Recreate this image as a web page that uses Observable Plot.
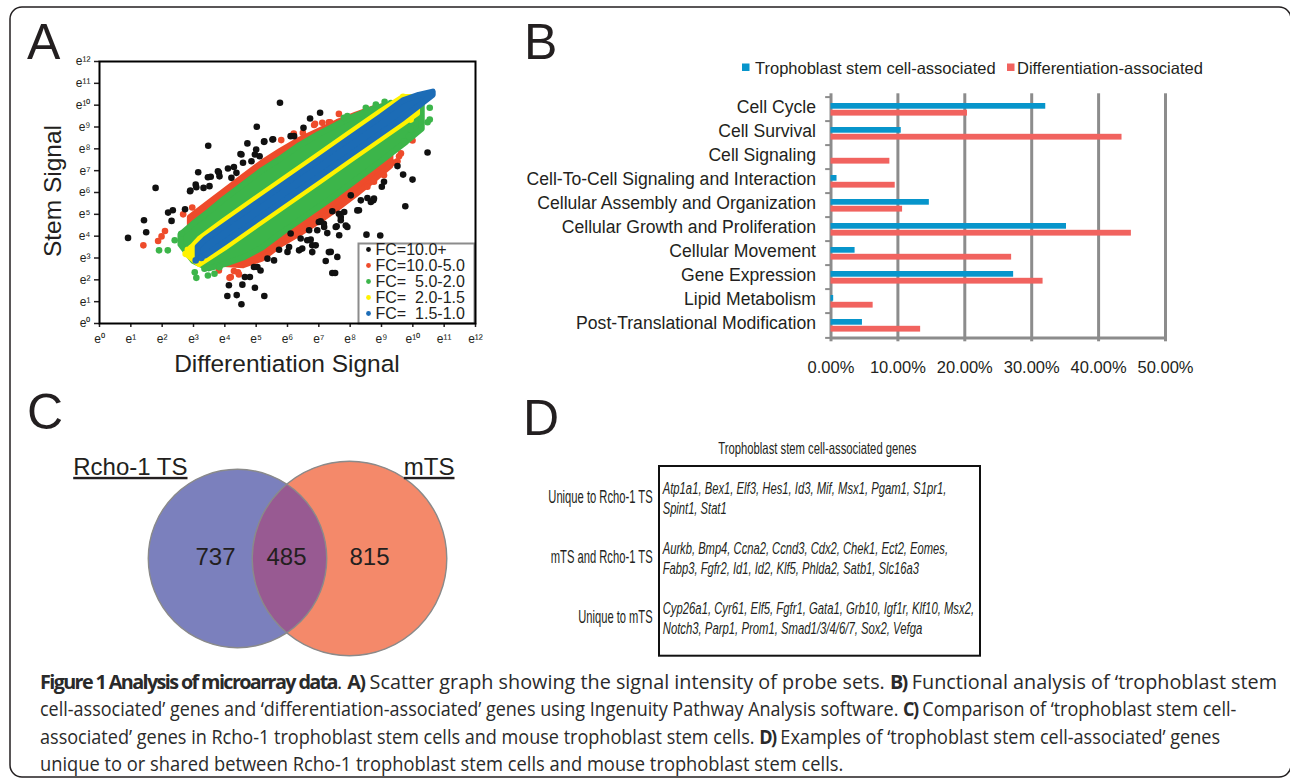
<!DOCTYPE html>
<html>
<head>
<meta charset="utf-8">
<script src="https://cdn.jsdelivr.net/npm/d3@7"></script>
<script src="https://cdn.jsdelivr.net/npm/@observablehq/plot@0.6"></script>
<style>
  body { margin: 0; background: #fff; }
  #fig { position: relative; width: 1290px; height: 780px; overflow: hidden; background: #fff; }
</style>
</head>
<body>
<div id="fig"></div>
<script>
// ---------------- DATA ----------------
// Panel A: fold-change classes
const fcClasses = ["FC=10.0+", "FC=10.0-5.0", "FC=  5.0-2.0", "FC=  2.0-1.5", "FC=  1.5-1.0"];
const fcColors = ["#111111", "#ee4b2b", "#3cb54a", "#fff200", "#1c6cb6"];
const axisExponents = [0,1,2,3,4,5,6,7,8,9,10,11,12];

// dense bands of probe sets (ln signal): x, lower y, upper y
const redBandX    = [2.9, 3.4, 4.0, 4.6, 5.2, 5.8, 6.4, 7.0, 7.6, 8.2, 8.8, 9.3];
const redBandLo   = [4.0, 3.1, 2.7, 2.65, 2.95, 3.6, 4.1, 4.65, 5.25, 5.9, 6.6, 7.2];
const redBandHi   = [4.85, 5.4, 6.05, 6.7, 7.35, 7.9, 8.4, 8.8, 9.2, 9.55, 9.85, 10.0];
const greenBandX  = [2.6, 3.0, 3.5, 4.0, 4.6, 5.2, 5.8, 6.4, 7.0, 7.6, 8.2, 8.8, 9.3, 9.8, 10.3];
const greenBandLo = [3.6, 2.85, 2.5, 2.7, 3.0, 3.45, 4.1, 4.7, 5.3, 5.9, 6.55, 7.2, 7.75, 8.3, 8.9];
const greenBandHi = [4.05, 4.55, 5.1, 5.7, 6.35, 7.0, 7.55, 8.15, 8.65, 9.1, 9.5, 9.85, 10.0, 10.2, 10.35];
const yellowBandX  = [2.85, 3.2, 4, 5, 6, 7, 8, 9, 9.7, 10.15];
const yellowBandLo = [3.1, 2.7, 3.45, 4.45, 5.45, 6.45, 7.45, 8.45, 9.15, 9.6];
const yellowBandHi = [3.3, 3.85, 4.7, 5.7, 6.7, 7.7, 8.7, 9.7, 10.35, 10.35];
const blueBandX  = [3.15, 3.4, 4, 5, 6, 7, 8, 9, 9.7, 10.2, 10.65];
const blueBandLo = [3.0, 3.1, 3.69, 4.69, 5.69, 6.69, 7.69, 8.69, 9.39, 9.95, 10.45];
const blueBandHi = [3.5, 3.85, 4.46, 5.46, 6.46, 7.46, 8.46, 9.46, 10.2, 10.45, 10.6];

// individual probe sets outside the dense bands [x, y]
const blackPts = [[5.76,10.11],[7.04,9.65],[5.02,9.01],[6.72,9.39],[6.51,8.96],[3.47,8.14],[4.72,8.25],[4.50,7.76],[3.15,6.93],[4.10,7.10],[1.79,6.21],[0.91,3.92],[1.42,4.73],[1.49,4.18],[2.19,5.08],[2.34,5.19],[2.30,4.70],[2.73,5.23],[2.89,6.06],[3.07,6.36],[3.55,6.72],[3.81,6.91],[4.29,7.17],[4.96,7.74],[5.25,8.32],[5.52,8.43],[6.10,8.58],[6.21,8.58],[10.47,7.83],[9.51,7.21],[9.69,6.82],[9.99,6.59],[9.76,5.37],[9.08,6.49],[9.01,6.26],[8.74,5.65],[8.55,5.75],[8.28,5.19],[7.81,5.11],[7.70,4.73],[7.43,5.14],[7.06,4.68],[7.17,4.42],[7.57,4.45],[7.91,4.42],[8.52,4.07],[8.96,4.03],[7.65,4.04],[7.38,3.28],[7.22,2.86],[7.59,3.05],[7.43,2.31],[7.52,2.31],[6.79,3.58],[6.47,3.43],[6.00,3.28],[5.73,3.38],[5.57,2.89],[5.36,2.97],[5.04,2.59],[5.14,2.43],[4.93,2.59],[4.64,2.13],[4.80,2.13],[4.56,1.78],[4.13,1.75],[4.08,1.26],[4.38,1.30],[4.96,1.64],[5.26,1.26],[4.53,0.88],[6.10,4.12],[6.42,3.89],[6.74,3.84],[6.95,4.27],[6.69,4.27],[4.53,7.74],[5.0,7.97],[5.11,7.66],[4.85,7.43],[4.58,7.36],[4.37,6.90],[3.78,6.97],[3.83,6.74],[3.46,6.70],[3.51,6.29],[3.09,6.24],[2.90,6.09],[3.32,6.21],[4.21,6.67],[5.26,8.34],[5.54,8.44],[6.05,3.5],[6.37,3.35],[6.63,3.81],[6.79,3.27],[6.9,3.58],[7.0,4.65],[7.16,4.57],[7.27,4.14],[7.54,4.42],[7.64,5.03],[7.70,4.88],[7.86,4.49],[8.02,5.87],[8.23,5.18],[8.34,5.64],[8.66,5.57],[8.76,5.72],[7.32,3.27]];
const redPts = [[1.40,3.58],[1.87,3.78],[1.98,3.99],[2.09,4.24],[2.67,5.00],[2.96,5.31],[7.64,9.60],[6.88,9.15],[7.11,9.19],[7.32,9.22],[6.49,8.73],[9.99,8.38],[9.56,7.66],[9.51,7.43],[9.62,7.79],[9.40,7.37],[9.08,6.79],[8.76,6.49],[8.55,6.26],[4.19,2.13],[4.45,2.25],[4.29,2.40],[3.81,2.43],[4.15,2.09],[4.42,2.35],[6.85,9.09],[7.36,9.22],[5.8,8.4],[6.2,8.7]];
const greenPts = [[10.54,9.88],[10.54,9.34],[10.47,9.22],[10.09,9.19],[9.93,8.89],[9.88,8.58],[9.72,8.35],[8.82,10.03],[8.5,9.88],[7.91,9.50],[7.80,9.42],[1.90,3.35],[2.18,3.35],[2.40,3.81],[2.61,4.11],[3.04,2.35],[3.09,2.09],[3.35,2.51],[3.46,2.20],[3.67,2.28],[3.83,2.58],[9.3,10.1],[9.1,10.15]];
const yellowPts = [[2.75,3.19],[2.82,3.38],[2.93,3.47],[9.69,10.38],[9.56,10.18],[10.04,9.60],[9.93,9.34]];
const bluePts = [[3.07,2.89],[3.25,3.0]];

// Panel B: functional analysis (%)
const categories = ["Cell Cycle", "Cell Survival", "Cell Signaling", "Cell-To-Cell Signaling and Interaction", "Cellular Assembly and Organization", "Cellular Growth and Proliferation", "Cellular Movement", "Gene Expression", "Lipid Metabolism", "Post-Translational Modification"];
const seriesNames = ["Trophoblast stem cell-associated", "Differentiation-associated"];
const seriesColors = ["#0795cb", "#f1635f"];
const tscValues  = [32.1, 10.5, 0, 0.9, 14.7, 35.2, 3.6, 27.3, 0.4, 4.7];
const diffValues = [20.4, 43.5, 8.8, 9.6, 10.7, 44.9, 27.0, 31.7, 6.3, 13.4];
const percentTicks = [0, 10, 20, 30, 40, 50];

// Panel C: Venn
const vennSets = ["Rcho-1 TS", "mTS"];
const vennCounts = [737, 485, 815]; // Rcho-1 only, shared, mTS only
const vennColors = ["#7b80bd", "#f4896a", "#985a92"];

// Panel D: gene table
const dTitle = "Trophoblast stem cell-associated genes";
const dRowLabels = ["Unique to Rcho-1 TS", "mTS and Rcho-1 TS", "Unique to mTS"];
const dGeneLines = [
  ["Atp1a1, Bex1, Elf3, Hes1, Id3, Mif, Msx1, Pgam1, S1pr1,", "Spint1, Stat1"],
  ["Aurkb, Bmp4, Ccna2, Ccnd3, Cdx2, Chek1, Ect2, Eomes,", "Fabp3, Fgfr2, Id1, Id2, Klf5, Phlda2, Satb1, Slc16a3"],
  ["Cyp26a1, Cyr61, Elf5, Fgfr1, Gata1, Grb10, Igf1r, Klf10, Msx2,", "Notch3, Parp1, Prom1, Smad1/3/4/6/7, Sox2, Vefga"]
];

// Caption
const captionLines = [
  [["b","Figure 1 Analysis of microarray data"],["n",". "],["b","A)"],["n"," Scatter graph showing the signal intensity of probe sets. "],["b","B)"],["n"," Functional analysis of \u2018trophoblast stem"]],
  [["n","cell-associated\u2019 genes and \u2018differentiation-associated\u2019 genes using Ingenuity Pathway Analysis software. "],["b","C)"],["n"," Comparison of \u2018trophoblast stem cell-"]],
  [["n","associated\u2019 genes in Rcho-1 trophoblast stem cells and mouse trophoblast stem cells. "],["b","D)"],["n"," Examples of \u2018trophoblast stem cell-associated\u2019 genes"]],
  [["n","unique to or shared between Rcho-1 trophoblast stem cells and mouse trophoblast stem cells."]]
];

// ---------------- LAYOUT ----------------
const SANS = "'Liberation Sans', Arial, Helvetica, sans-serif";
const INK = "#231f20";
const fig = document.getElementById("fig");
function place(el, left, top) {
  el.style.position = "absolute";
  el.style.left = left + "px";
  el.style.top = top + "px";
  fig.appendChild(el);
  return el;
}
const SUP = {"0":"\u2070","1":"\u00b9","2":"\u00b2","3":"\u00b3","4":"\u2074","5":"\u2075","6":"\u2076","7":"\u2077","8":"\u2078","9":"\u2079"};
const eLabel = d => "e" + String(d).split("").map(c => SUP[c]).join("");

// ---- Panel A legend (below plot A) ----
const legendA = Plot.plot({
  width: 116, height: 80, margin: 0,
  style: {background: "white", fontFamily: SANS, fontSize: "16px", color: INK, overflow: "visible", whiteSpace: "pre"},
  y: {domain: fcClasses, range: [5.5, 70.5], padding: 0, axis: null},
  color: {domain: fcClasses, range: fcColors},
  marks: [
    Plot.frame({stroke: "#8c8c8c", strokeWidth: 2, fill: "white"}),
    Plot.dot(fcClasses, {y: d => d, fill: d => d, r: 2.4, frameAnchor: "left", dx: 10}),
    Plot.text(fcClasses, {y: d => d, text: d => d, frameAnchor: "left", dx: 17, textAnchor: "start"})
  ]
});
place(legendA, 358, 243);

// ---- Panel A scatter ----
const bandMark = (xs, lo, hi, color) => Plot.areaY(xs.map((x, i) => ({x, lo: lo[i], hi: hi[i]})),
  {x: "x", y1: "lo", y2: "hi", fill: color, stroke: color, strokeWidth: 6, strokeLinejoin: "round"});
const dotMark = (pts, color) => Plot.dot(pts.map(([x, y]) => ({x, y})), {x: "x", y: "y", r: 3.3, fill: color});

const plotA = Plot.plot({
  width: 455, height: 320, marginLeft: 69, marginRight: 10, marginTop: 21, marginBottom: 37,
  style: {background: "transparent", fontFamily: SANS, fontSize: "12px", color: INK, overflow: "visible"},
  x: {domain: [0, 12]},
  y: {domain: [0, 12]},
  marks: [
    bandMark(redBandX, redBandLo, redBandHi, fcColors[1]),
    dotMark(redPts, fcColors[1]),
    bandMark(greenBandX, greenBandLo, greenBandHi, fcColors[2]),
    dotMark(greenPts, fcColors[2]),
    bandMark(yellowBandX, yellowBandLo, yellowBandHi, fcColors[3]),
    dotMark(yellowPts, fcColors[3]),
    bandMark(blueBandX, blueBandLo, blueBandHi, fcColors[4]),
    dotMark(bluePts, fcColors[4]),
    dotMark(blackPts, fcColors[0]),
    Plot.axisX({ticks: axisExponents, tickFormat: eLabel, tickSize: 4, tickPadding: 7, strokeWidth: 1.5, label: null}),
    Plot.axisY({ticks: axisExponents, tickFormat: eLabel, tickSize: 5, tickPadding: 4, strokeWidth: 1.5, label: null}),
    Plot.frame({stroke: "#000", strokeWidth: 2})
  ]
});
place(plotA, 30, 40);

// ---- Panel B bars ----
const tscRows = categories.map((c, i) => ({c, v: tscValues[i]}));
const diffRows = categories.map((c, i) => ({c, v: diffValues[i]}));
const lastCat = categories[categories.length - 1];
const plotB = Plot.plot({
  width: 810, height: 305, marginLeft: 350.5, marginRight: 125, marginTop: 13.3, marginBottom: 43.7,
  style: {background: "transparent", fontFamily: SANS, fontSize: "16.5px", color: INK, overflow: "visible"},
  x: {domain: [0, 50]},
  y: {domain: categories, padding: 0},
  marks: [
    Plot.ruleX(percentTicks, {stroke: "#8c8c8c", strokeWidth: 3}),
    Plot.ruleY([lastCat], {y: d => d, dy: 12.4, x1: 0, x2: 50, stroke: "#8c8c8c", strokeWidth: 3}),
    Plot.ruleY(categories, {y: d => d, dy: -12.4, x1: -0.8, x2: 0, stroke: "#8c8c8c", strokeWidth: 2}),
    Plot.ruleY([lastCat], {y: d => d, dy: 12.4, x1: -0.8, x2: 0, stroke: "#8c8c8c", strokeWidth: 2}),
    Plot.barX(tscRows, {x: "v", y: "c", fill: seriesColors[0], insetTop: 6, insetBottom: 12.3}),
    Plot.barX(diffRows, {x: "v", y: "c", fill: seriesColors[1], insetTop: 12.8, insetBottom: 5.4}),
    Plot.axisY({tickSize: 0, tickPadding: 15, label: null, fontSize: 17.6, dy: -2}),
    Plot.axisX({ticks: percentTicks, tickFormat: d => d.toFixed(2) + "%", tickSize: 0, tickPadding: 19, label: null})
  ]
});
place(plotB, 480, 80);

// ---- Panel C Venn ----
const vennTotals = [vennCounts[0] + vennCounts[1], vennCounts[2] + vennCounts[1]];
const setRows = vennSets.map((s, i) => ({set: s, total: vennTotals[i]}));
const plotC = Plot.plot({
  width: 380, height: 236, margin: 0,
  style: {background: "transparent", fontFamily: SANS, fontSize: "24px", color: INK, overflow: "visible"},
  x: {type: "point", domain: [vennSets[0], "Shared", vennSets[1]], range: [136.9, 249.2], padding: 0, axis: null},
  r: {type: "pow", exponent: 1.4, domain: [0, 1300], range: [0, 97.3]},
  marks: [
    Plot.dot([setRows[0]], {x: "set", r: "total", fill: vennColors[0]}),
    Plot.dot([setRows[1]], {x: "set", r: "total", fill: vennColors[1]}),
    Plot.dot([setRows[1]], {x: "set", r: "total", fill: vennColors[2]}),
    Plot.dot(setRows, {x: "set", r: "total", fill: "none", stroke: "#8a8a8a", strokeWidth: 1.4}),
    Plot.text([vennSets[0]], {x: d => d, text: d => d, frameAnchor: "top", dy: 17.3, dx: -50, textAnchor: "end"}),
    Plot.text([vennSets[1]], {x: d => d, text: d => d, frameAnchor: "top", dy: 17.3, dx: 105, textAnchor: "end"}),
    Plot.text([vennCounts[0]], {x: () => vennSets[0], text: d => d, frameAnchor: "middle", dy: -1.5, dx: -22}),
    Plot.text([vennCounts[1]], {x: () => "Shared", text: d => d, frameAnchor: "middle", dy: -1.5, dx: -7}),
    Plot.text([vennCounts[2]], {x: () => vennSets[1], text: d => d, frameAnchor: "middle", dy: -1.5, dx: 20})
  ]
});
place(plotC, 100, 440);
(function () {
  const svgC = plotC.tagName.toLowerCase() === "svg" ? plotC : plotC.querySelector("svg");
  const dotGroups = svgC.querySelectorAll('g[aria-label="dot"]');
  const blue = dotGroups[0] && dotGroups[0].querySelector("circle");
  const lensG = dotGroups[2];
  if (blue && lensG) {
    const defs = d3.select(svgC).insert("defs", ":first-child");
    const cp = defs.append("clipPath").attr("id", "lens-clip");
    cp.node().appendChild(blue.cloneNode());
    lensG.setAttribute("clip-path", "url(#lens-clip)");
  }
  const textGroups = svgC.querySelectorAll('g[aria-label="text"]');
  [0, 1].forEach(i => { if (textGroups[i]) d3.select(textGroups[i]).selectAll("text").attr("text-decoration", "underline"); });
})();

// ---- Overlay: frame, letters, titles, legend B, table D, caption ----
const ov = d3.create("svg").attr("width", 1290).attr("height", 780)
  .style("position", "absolute").style("left", "0px").style("top", "0px").style("pointer-events", "none");
fig.appendChild(ov.node());
// condense a text element horizontally to a target width (measured after layout)
function fitText(sel, x, y, targetW) {
  const w = sel.node().getComputedTextLength();
  const k = w > 0 ? targetW / w : 1;
  sel.attr("x", null).attr("y", null).attr("transform", `translate(${x},${y}) scale(${k.toFixed(4)},1)`);
  return sel;
}

ov.append("rect").attr("x", 10).attr("y", 7).attr("width", 1281).attr("height", 770).attr("rx", 12)
  .attr("fill", "none").attr("stroke", INK).attr("stroke-width", 1.5);

const letters = [["A", 27, 59], ["B", 524, 59], ["C", 27, 429], ["D", 523, 435]];
letters.forEach(([t, x, y]) => ov.append("text").attr("x", x).attr("y", y).attr("font-family", SANS)
  .attr("font-size", 50).attr("fill", INK).text(t));

// Axis titles for panel A
ov.append("text").attr("x", 287).attr("y", 372).attr("text-anchor", "middle").attr("font-family", SANS)
  .attr("font-size", 24.5).attr("fill", INK).text("Differentiation Signal");
ov.append("text").attr("transform", "translate(61,191) rotate(-90)").attr("text-anchor", "middle").attr("font-family", SANS)
  .attr("font-size", 24.5).attr("fill", INK).text("Stem Signal");

// Legend for panel B
const legB = [[742, 755], [1007, 1017]];
seriesNames.forEach((s, i) => {
  ov.append("rect").attr("x", legB[i][0]).attr("y", 63.5).attr("width", 7.5).attr("height", 7.5).attr("fill", seriesColors[i]);
  ov.append("text").attr("x", legB[i][1]).attr("y", 74).attr("font-family", SANS).attr("font-size", 16.5).attr("fill", INK).text(s);
});

// Panel D table
fitText(ov.append("text").attr("font-family", SANS).attr("font-size", 16.5).attr("fill", INK).text(dTitle), 718.3, 454, 198.3);
ov.append("rect").attr("x", 659).attr("y", 466).attr("width", 321).attr("height", 189.7)
  .attr("fill", "none").attr("stroke", "#111").attr("stroke-width", 2);
const rowLabelW = [104.4, 102, 74.4];
const geneW = [[284, 64], [285.7, 256.7], [311.7, 259.7]];
dRowLabels.forEach((lab, i) => {
  fitText(ov.append("text").attr("font-family", SANS).attr("font-size", 17.5).attr("fill", INK).text(lab),
    652.7 - rowLabelW[i], 503.3 + 60 * i, rowLabelW[i]);
  dGeneLines[i].forEach((ln, j) => {
    fitText(ov.append("text").attr("font-family", SANS).attr("font-style", "italic").attr("font-size", 17).attr("fill", INK).text(ln),
      662.7, 494.3 + 60 * i + 19.7 * j, geneW[i][j]);
  });
});

// Caption
const capEnds = [1278, 1237, 1221, 844];
captionLines.forEach((parts, i) => {
  const t = ov.append("text").attr("font-family", "'Open Sans', 'Noto Sans', sans-serif")
    .attr("font-size", 19.5).attr("fill", "#2a2a2a").style("white-space", "pre");
  parts.forEach(([w, s]) => {
    const sp = t.append("tspan").attr("font-weight", w === "b" ? 700 : 400).text(s);
    if (w === "b") sp.attr("letter-spacing", -1.6);
  });
  fitText(t, 40, 688.5 + 27.6 * i, capEnds[i] - 40);
});
</script>
</body>
</html>
